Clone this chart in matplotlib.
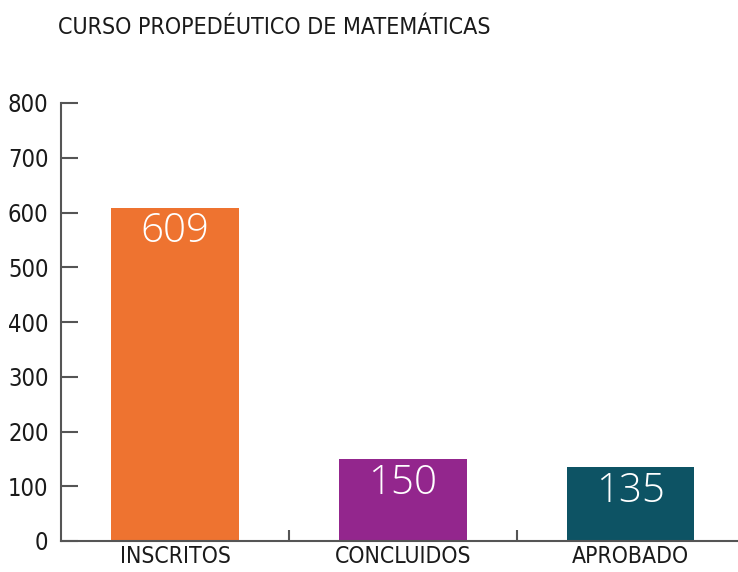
import matplotlib.pyplot as plt
from matplotlib import font_manager

categories = ["INSCRITOS", "CONCLUIDOS", "APROBADO"]
values = [609, 150, 135]
colors = ["#EE7330", "#93268D", "#0D5364"]
yticks = [0, 100, 200, 300, 400, 500, 600, 700, 800]
title = "CURSO PROPEDÉUTICO DE MATEMÁTICAS"

names = {f.name for f in font_manager.fontManager.ttflist}
cond = "Liberation Sans Narrow" if "Liberation Sans Narrow" in names else "DejaVu Sans"
cond_kw = dict(family=cond, stretch="condensed")

fig = plt.figure(figsize=(7.38, 5.72), dpi=100)
ax = fig.add_axes([61 / 738, 31 / 572, 677 / 738, 438 / 572])

x = list(range(len(categories)))
ax.bar(x, values, width=0.558, color=colors)
for xi, v in zip(x, values):
    ax.text(xi, v - 7, str(v), ha="center", va="top", color="white",
            fontsize=29, family="Open Sans", fontweight="light")

ax.set_xlim(-0.5, 2.47)
ax.set_ylim(0, 800)
ax.set_yticks(yticks)
ax.set_xticks([0.5, 1.5])
ax.set_xticklabels([])
ax.set_xticks(x, minor=True)
ax.set_xticklabels(categories, minor=True, fontsize=16.5, color="#1a1a1a", **cond_kw)
ax.tick_params(axis="x", which="minor", length=0, pad=3)
ax.tick_params(axis="x", which="major", direction="in", length=8, width=1.5, color="#555555")
ax.tick_params(axis="y", direction="in", length=12, width=1.5, color="#555555", pad=9)
for lab in ax.get_yticklabels():
    lab.set_fontsize(17)
    lab.set_color("#1a1a1a")
    lab.set_family(cond)
    lab.set_stretch("condensed")

for s in ["top", "right"]:
    ax.spines[s].set_visible(False)
for s in ["left", "bottom"]:
    ax.spines[s].set_color("#555555")
    ax.spines[s].set_linewidth(1.5)

fig.text(58 / 738, 1 - 27 / 572, title, ha="left", va="center", fontsize=16.7,
         color="#1a1a1a", **cond_kw)

fig.savefig("out.png", dpi=100)
